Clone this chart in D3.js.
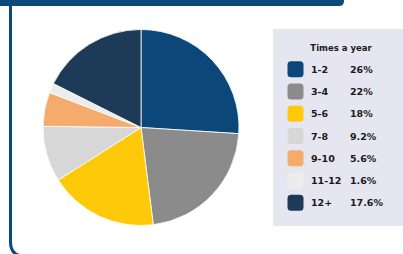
<!DOCTYPE html>
<html lang="en">
	<head>
		<meta charset="utf-8">
		<title>Times a year</title>
		<script src="https://d3js.org/d3.v7.min.js"></script>
		<style>
			body {
				margin: 0;
				background: #ffffff;
			}
			text {
				font-family: "DejaVu Sans", sans-serif;
				font-weight: bold;
				fill: #1a1a1a;
			}
		</style>
	</head>
	<body>
		<div id="chart"></div>
		<script type="text/javascript">
			// data
			var categories = ["1-2","3-4","5-6","7-8","9-10","11-12","12+"];
			var values = [26,22,18,9.2,5.6,1.6,17.6];
			var valueLabels = ["26%","22%","18%","9.2%","5.6%","1.6%","17.6%"];
			var colors = ["#0b4778","#8b8b8b","#fec908","#d7d7d7","#f4ab6b","#ececec","#1d3a57"];

			var w = 403;
			var h = 254;

			var svg = d3.select("#chart").append("svg").attr("width",w).attr("height",h);

			// frame: top bar and left border with rounded corner
			svg.append("path")
				.attr("d","M0,0 H344 V1 Q344,6 339,6 H0 Z")
				.attr("fill","#0b4a7c");
			svg.append("path")
				.attr("d","M10.5,5 V242 Q10.5,256 24.5,256 H403")
				.attr("fill","none")
				.attr("stroke","#0b4a7c")
				.attr("stroke-width",3);

			// pie
			var cx = 141, cy = 127.5, r = 98;
			var pie = d3.pie().sort(null).value(function(d) { return d; });
			var arc = d3.arc().innerRadius(0).outerRadius(r);
			var g = svg.append("g").attr("transform","translate("+cx+","+cy+")");
			g.selectAll("path").data(pie(values)).enter().append("path")
				.attr("d",arc)
				.attr("fill",function(d,i) { return colors[i]; })
				.attr("stroke","#ffffff")
				.attr("stroke-width",0.8);

			// legend
			var lx = 273, ly = 29, lw = 130, lh = 197;
			var legend = svg.append("g");
			legend.append("rect").attr("x",lx).attr("y",ly).attr("width",lw).attr("height",lh).attr("fill","#e6e6f0");
			legend.append("text").attr("x",341).attr("y",51).attr("text-anchor","middle").style("font-size","8.5px").text("Times a year");

			var yScale = d3.scaleBand().domain(categories).range([58,214]);
			var rows = legend.selectAll(".row").data(categories).enter().append("g").attr("class","row")
				.attr("transform",function(d) { return "translate(0,"+(yScale(d)+yScale.bandwidth()/2)+")"; });
			rows.append("rect").attr("x",287.5).attr("y",-8).attr("width",16).attr("height",16).attr("rx",3.5)
				.attr("fill",function(d,i) { return colors[i]; });
			rows.append("text").attr("x",311).attr("y",3.5).style("font-size","9.5px").text(function(d) { return d; });
			rows.append("text").attr("x",350).attr("y",3.5).style("font-size","9.5px").text(function(d,i) { return valueLabels[i]; });
		</script>
	</body>
</html>
